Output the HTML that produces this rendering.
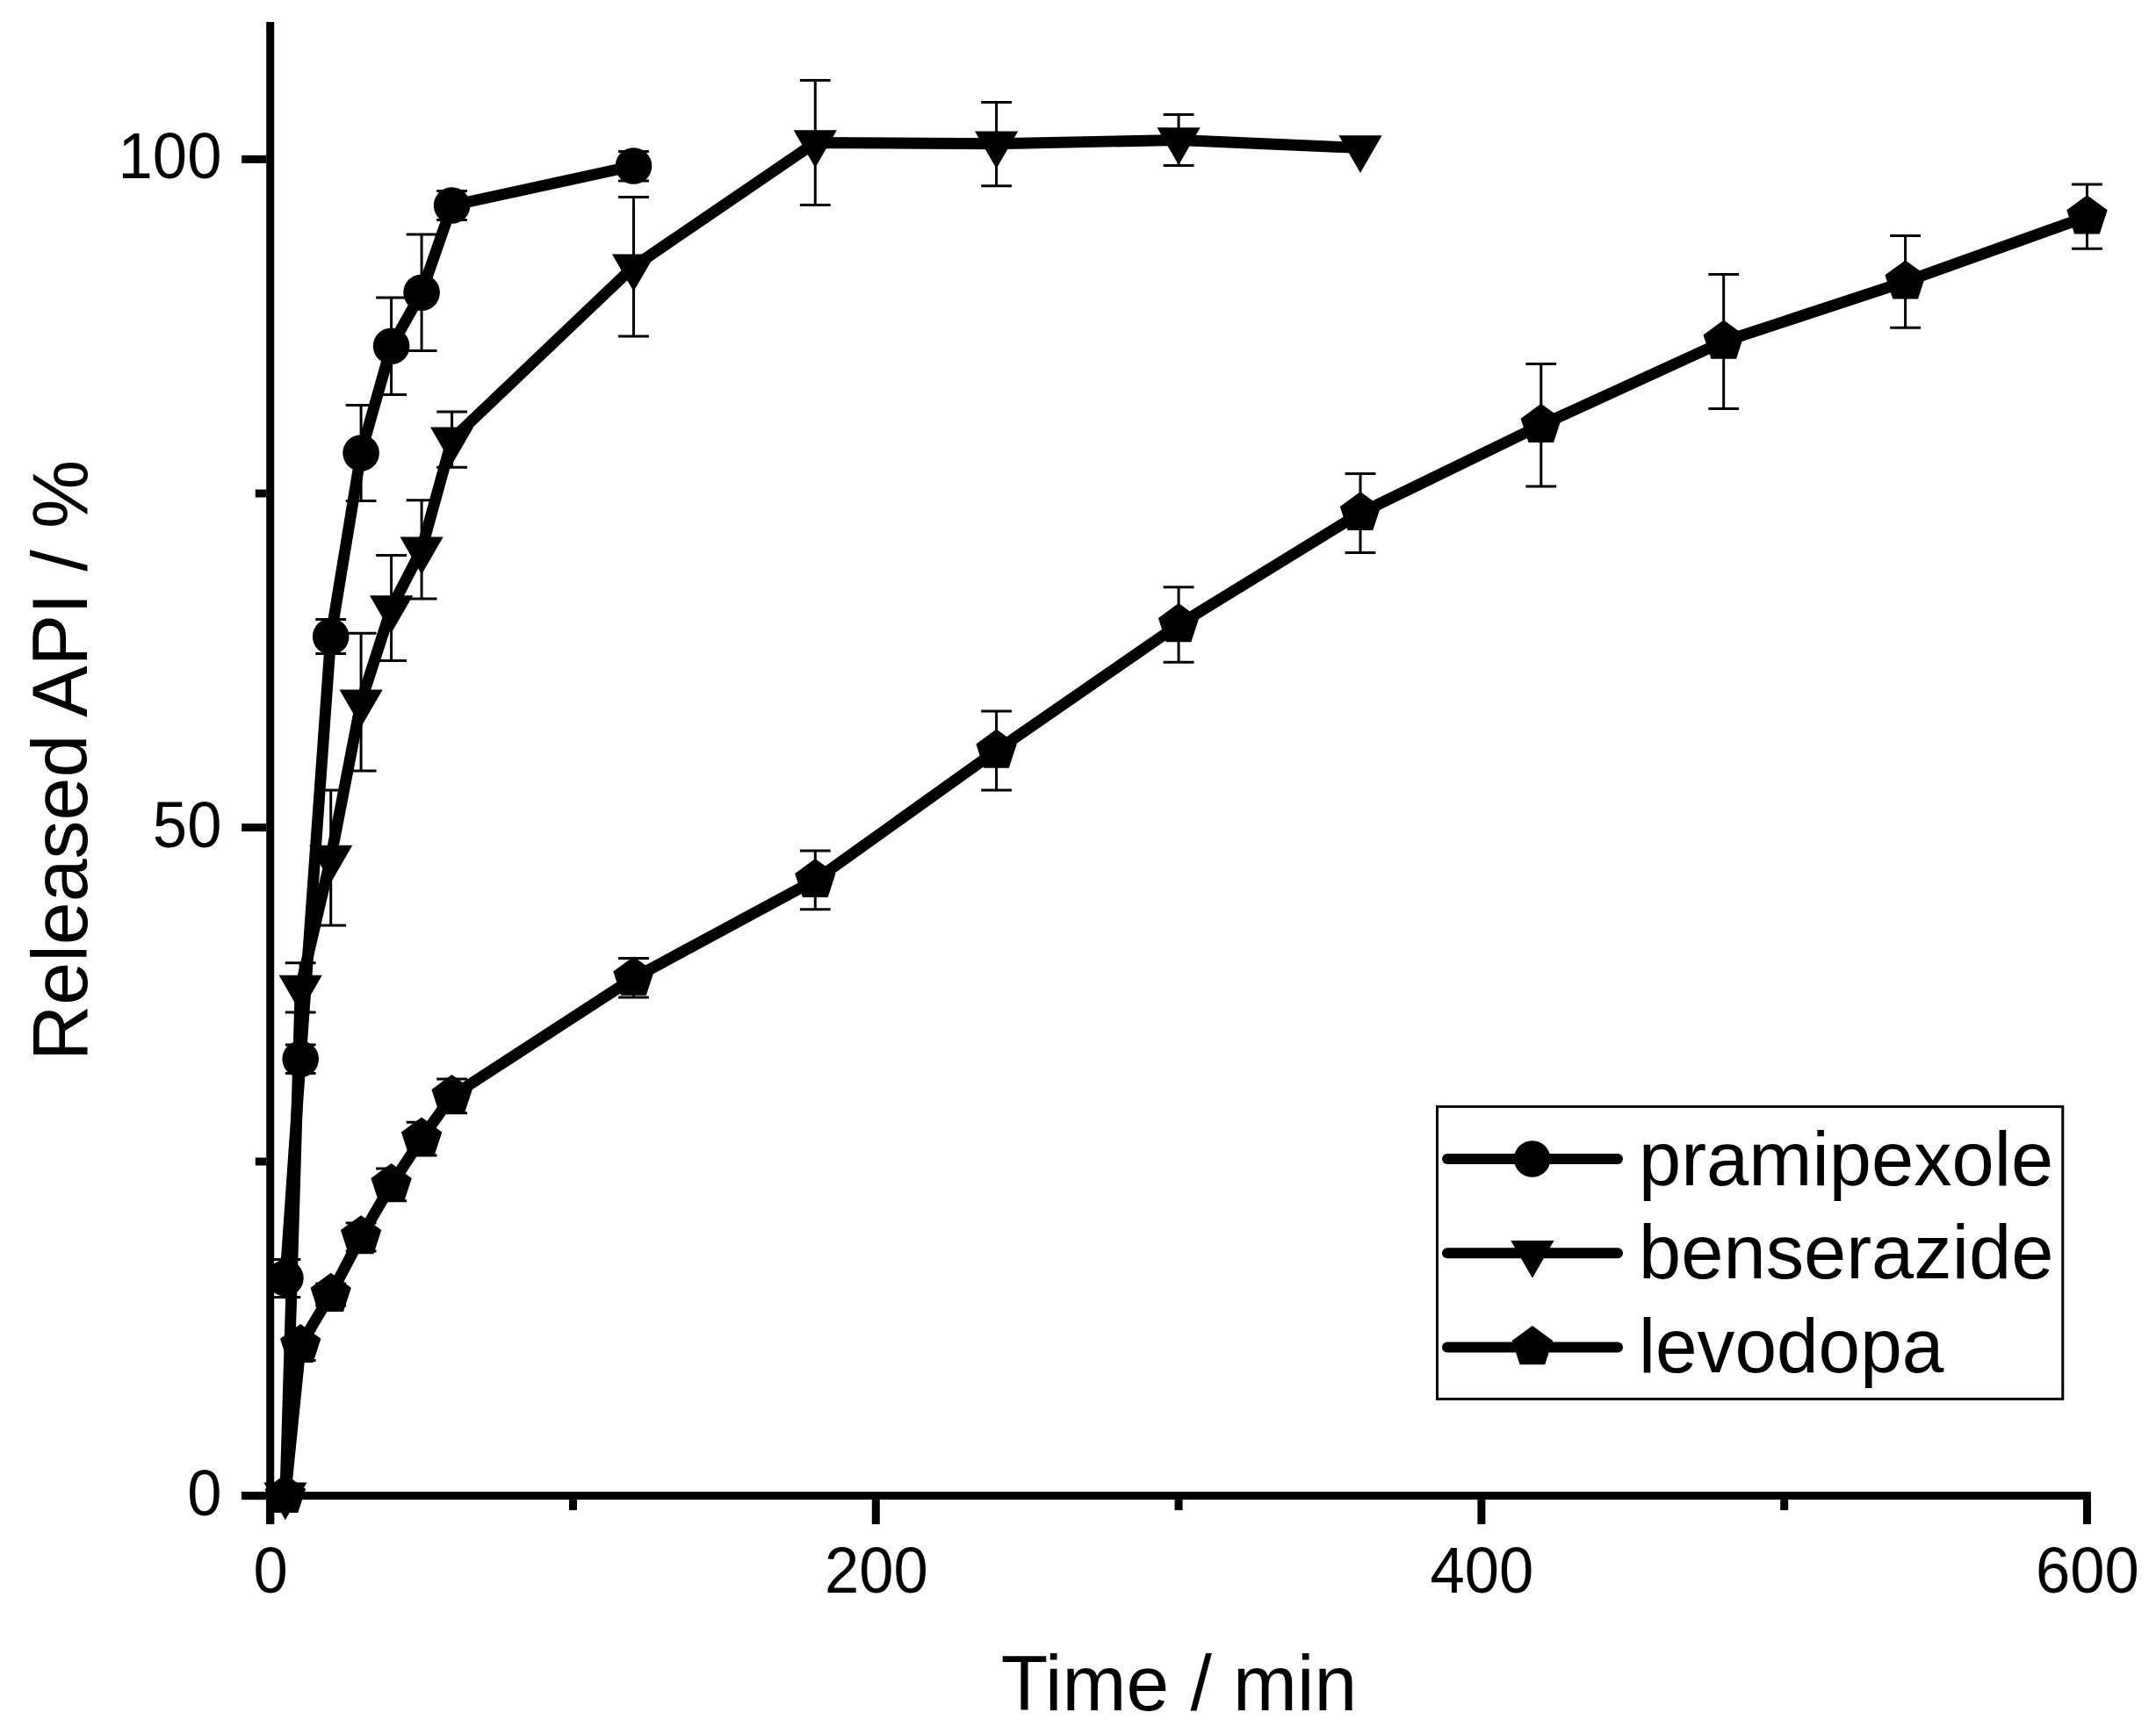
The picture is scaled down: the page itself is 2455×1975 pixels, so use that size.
<!DOCTYPE html>
<html><head><meta charset="utf-8"><title>Released API vs Time</title>
<style>html,body{margin:0;padding:0;background:#fff}body{width:2455px;height:1975px;overflow:hidden}svg text{font-family:"Liberation Sans",sans-serif}</style>
</head><body>
<svg width="2455" height="1975" viewBox="0 0 2455 1975" style="display:block">
<rect width="2455" height="1975" fill="#fff"/>
<g fill="#000"><rect x="303.2" y="25.0" width="9.0" height="1710.7"/><rect x="274.9" y="1699.1" width="2106.0" height="9.0"/><rect x="303.2" y="1708.1" width="9.0" height="28"/><rect x="648.0" y="1708.1" width="9.0" height="12"/><rect x="992.8" y="1708.1" width="9.0" height="28"/><rect x="1337.6" y="1708.1" width="9.0" height="12"/><rect x="1682.4" y="1708.1" width="9.0" height="28"/><rect x="2027.2" y="1708.1" width="9.0" height="12"/><rect x="2372.0" y="1708.1" width="9.0" height="28"/><rect x="275.2" y="1699.1" width="28" height="9.0"/><rect x="290.8" y="1318.5" width="12.4" height="9.0"/><rect x="275.2" y="938.0" width="28" height="9.0"/><rect x="290.8" y="557.5" width="12.4" height="9.0"/><rect x="275.2" y="176.9" width="28" height="9.0"/></g>
<g font-family="'Liberation Sans', sans-serif" font-size="70.6" fill="#000">
<text transform="translate(308.2,1814.3) scale(1,1.046)" text-anchor="middle">0</text>
<text transform="translate(997.8,1814.3) scale(1,1.046)" text-anchor="middle">200</text>
<text transform="translate(1687.4,1814.3) scale(1,1.046)" text-anchor="middle">400</text>
<text transform="translate(2377.0,1814.3) scale(1,1.046)" text-anchor="middle">600</text>
<text transform="translate(252.4,1725.6) scale(1,1.046)" text-anchor="end">0</text>
<text transform="translate(252.4,964.5) scale(1,1.046)" text-anchor="end">50</text>
<text transform="translate(252.4,203.4) scale(1,1.046)" text-anchor="end">100</text>
</g>
<g font-family="'Liberation Sans', sans-serif" font-size="86.8" fill="#000">
<text transform="translate(1342.5,1948.1) scale(1.009,1.035)" text-anchor="middle">Time / min</text>
<text transform="translate(99.0,866.0) rotate(-90) scale(1.0133,1.035)" text-anchor="middle">Released API / %</text>
<rect x="1636.5" y="1260.4" width="712.3" height="333" fill="none" stroke="#000" stroke-width="3"/>
<line x1="1648" y1="1320.0" x2="1842" y2="1320.0" stroke="#000" stroke-width="12" stroke-linecap="round"/>
<text transform="translate(1866,1350.0) scale(0.999,1)">pramipexole</text>
<line x1="1648" y1="1427.3" x2="1842" y2="1427.3" stroke="#000" stroke-width="12" stroke-linecap="round"/>
<text transform="translate(1866,1455.7) scale(0.999,1)">benserazide</text>
<line x1="1648" y1="1534.5" x2="1842" y2="1534.5" stroke="#000" stroke-width="12" stroke-linecap="round"/>
<text transform="translate(1866,1563.3) scale(0.986,1)">levodopa</text>
<circle cx="1744.7" cy="1320.0" r="20.8"/>
<polygon points="1720.3,1413.1 1769.5,1413.1 1744.9,1455.7"/>
<polygon points="1744.9,1510.1 1768.1,1527.0 1759.2,1554.2 1730.6,1554.2 1721.7,1527.0"/>
</g>
<path d="M324.9,1434.6V1477.4M307.5,1434.6H342.3M307.5,1477.4H342.3M342.2,1190.0V1222.5M324.8,1190.0H359.6M324.8,1222.5H359.6M376.7,705.6V744.4M359.3,705.6H394.1M359.3,744.4H394.1M411.1,461.6V570.6M393.7,461.6H428.5M393.7,570.6H428.5M445.6,339.1V449.5M428.2,339.1H463.0M428.2,449.5H463.0M480.1,267.0V399.4M462.7,267.0H497.5M462.7,399.4H497.5M514.6,217.4V250.5M497.2,217.4H532.0M497.2,250.5H532.0M721.5,172.5V206.0M704.1,172.5H738.9M704.1,206.0H738.9" fill="none" stroke="#000" stroke-width="3.0" stroke-linecap="butt"/>
<polyline points="324.9,1455.8 342.2,1206.2 376.7,725.0 411.1,516.0 445.6,394.3 480.1,333.2 514.6,234.0 721.5,189.0" fill="none" stroke="#000" stroke-width="12.9" stroke-linejoin="round" stroke-linecap="round"/>
<g fill="#000"><circle cx="324.9" cy="1455.8" r="20.8"/><circle cx="342.2" cy="1206.2" r="20.8"/><circle cx="376.7" cy="725.0" r="20.8"/><circle cx="411.1" cy="516.0" r="20.8"/><circle cx="445.6" cy="394.3" r="20.8"/><circle cx="480.1" cy="333.2" r="20.8"/><circle cx="514.6" cy="234.0" r="20.8"/><circle cx="721.5" cy="189.0" r="20.8"/></g>
<path d="M342.2,1096.8V1153.1M324.8,1096.8H359.6M324.8,1153.1H359.6M376.7,900.0V1054.0M359.3,900.0H394.1M359.3,1054.0H394.1M411.1,721.3V878.0M393.7,721.3H428.5M393.7,878.0H428.5M445.6,632.6V752.5M428.2,632.6H463.0M428.2,752.5H463.0M480.1,569.7V681.9M462.7,569.7H497.5M462.7,681.9H497.5M514.6,469.1V532.3M497.2,469.1H532.0M497.2,532.3H532.0M721.5,224.5V382.9M704.1,224.5H738.9M704.1,382.9H738.9M928.3,91.5V233.5M910.9,91.5H945.7M910.9,233.5H945.7M1134.6,116.6V211.8M1117.2,116.6H1152.0M1117.2,211.8H1152.0M1342.1,130.5V188.6M1324.7,130.5H1359.5M1324.7,188.6H1359.5" fill="none" stroke="#000" stroke-width="3.0" stroke-linecap="butt"/>
<polyline points="324.9,1702.8 342.2,1125.0 376.7,977.0 411.1,799.7 445.6,692.5 480.1,625.8 514.6,500.7 721.5,303.7 928.3,162.5 1134.6,163.7 1342.1,159.5 1549.0,168.5" fill="none" stroke="#000" stroke-width="12.9" stroke-linejoin="round" stroke-linecap="round"/>
<g fill="#000"><polygon points="300.3,1688.6 349.5,1688.6 324.9,1731.2"/><polygon points="317.6,1110.8 366.8,1110.8 342.2,1153.4"/><polygon points="352.1,962.8 401.3,962.8 376.7,1005.4"/><polygon points="386.5,785.5 435.7,785.5 411.1,828.1"/><polygon points="421.0,678.3 470.2,678.3 445.6,720.9"/><polygon points="455.5,611.6 504.7,611.6 480.1,654.2"/><polygon points="490.0,486.5 539.2,486.5 514.6,529.1"/><polygon points="696.9,289.5 746.1,289.5 721.5,332.1"/><polygon points="903.7,148.3 952.9,148.3 928.3,190.9"/><polygon points="1110.0,149.5 1159.2,149.5 1134.6,192.1"/><polygon points="1317.5,145.3 1366.7,145.3 1342.1,187.9"/><polygon points="1524.4,154.3 1573.6,154.3 1549.0,196.9"/></g>
<path d="M342.2,1515.5V1549.5M324.8,1515.5H359.6M324.8,1549.5H359.6M376.7,1462.0V1487.0M359.3,1462.0H394.1M359.3,1487.0H394.1M411.1,1393.0V1425.0M393.7,1393.0H428.5M393.7,1425.0H428.5M445.6,1331.0V1367.8M428.2,1331.0H463.0M428.2,1367.8H463.0M480.1,1278.2V1315.9M462.7,1278.2H497.5M462.7,1315.9H497.5M514.6,1228.9V1267.8M497.2,1228.9H532.0M497.2,1267.8H532.0M721.5,1091.5V1136.0M704.1,1091.5H738.9M704.1,1136.0H738.9M928.3,969.0V1035.8M910.9,969.0H945.7M910.9,1035.8H945.7M1134.6,810.1V900.0M1117.2,810.1H1152.0M1117.2,900.0H1152.0M1342.1,668.7V754.3M1324.7,668.7H1359.5M1324.7,754.3H1359.5M1549.0,539.4V629.4M1531.6,539.4H1566.4M1531.6,629.4H1566.4M1754.8,414.4V554.0M1737.4,414.4H1772.2M1737.4,554.0H1772.2M1962.7,312.4V465.5M1945.3,312.4H1980.1M1945.3,465.5H1980.1M2169.6,268.4V373.3M2152.2,268.4H2187.0M2152.2,373.3H2187.0M2376.5,210.1V283.3M2359.1,210.1H2393.9M2359.1,283.3H2393.9" fill="none" stroke="#000" stroke-width="3.0" stroke-linecap="butt"/>
<polyline points="324.9,1703.4 342.2,1532.3 376.7,1474.2 411.1,1408.6 445.6,1349.4 480.1,1297.0 514.6,1248.4 721.5,1114.0 928.3,1002.4 1134.6,855.0 1342.1,711.5 1549.0,584.4 1754.8,484.2 1962.7,389.0 2169.6,320.8 2376.5,246.7" fill="none" stroke="#000" stroke-width="12.9" stroke-linejoin="round" stroke-linecap="round"/>
<g fill="#000"><polygon points="324.9,1679.0 348.1,1695.9 339.3,1723.1 310.6,1723.1 301.7,1695.9"/><polygon points="342.2,1507.9 365.4,1524.8 356.5,1552.0 327.8,1552.0 319.0,1524.8"/><polygon points="376.7,1449.8 399.9,1466.7 391.0,1493.9 362.3,1493.9 353.5,1466.7"/><polygon points="411.1,1384.2 434.3,1401.1 425.5,1428.3 396.8,1428.3 387.9,1401.1"/><polygon points="445.6,1325.0 468.8,1341.9 460.0,1369.1 431.3,1369.1 422.4,1341.9"/><polygon points="480.1,1272.6 503.3,1289.5 494.4,1316.7 465.8,1316.7 456.9,1289.5"/><polygon points="514.6,1224.0 537.8,1240.9 528.9,1268.1 500.2,1268.1 491.4,1240.9"/><polygon points="721.5,1089.6 744.7,1106.5 735.8,1133.7 707.1,1133.7 698.3,1106.5"/><polygon points="928.3,978.0 951.5,994.9 942.7,1022.1 914.0,1022.1 905.1,994.9"/><polygon points="1134.6,830.6 1157.8,847.5 1148.9,874.7 1120.3,874.7 1111.4,847.5"/><polygon points="1342.1,687.1 1365.3,704.0 1356.4,731.2 1327.8,731.2 1318.9,704.0"/><polygon points="1549.0,560.0 1572.2,576.9 1563.3,604.1 1534.6,604.1 1525.8,576.9"/><polygon points="1754.8,459.8 1778.0,476.7 1769.1,503.9 1740.5,503.9 1731.6,476.7"/><polygon points="1962.7,364.6 1985.9,381.5 1977.1,408.7 1948.4,408.7 1939.5,381.5"/><polygon points="2169.6,296.4 2192.8,313.3 2184.0,340.5 2155.3,340.5 2146.4,313.3"/><polygon points="2376.5,222.3 2399.7,239.2 2390.8,266.4 2362.2,266.4 2353.3,239.2"/></g>
</svg>
</body></html>
